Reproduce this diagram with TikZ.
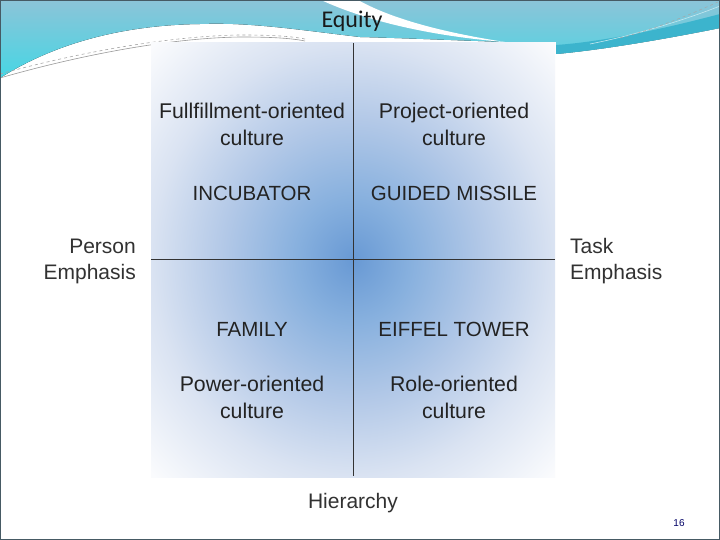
\documentclass[tikz,border=0pt]{standalone}
\usepackage{fontspec}
\setmainfont{Liberation Sans}
\newfontfamily\eqfont{Carlito}
\definecolor{qc0}{RGB}{104,153,212}
\definecolor{qc1}{RGB}{135,176,222}
\definecolor{qc2}{RGB}{178,200,231}
\definecolor{qc3}{RGB}{218,227,242}
\definecolor{qc4}{RGB}{250,251,253}
\definecolor{hdtop}{RGB}{140,196,216}
\definecolor{hdbot}{RGB}{70,214,228}
\definecolor{hdteal}{RGB}{60,180,205}
\definecolor{txtq}{RGB}{35,35,35}
\definecolor{txts}{RGB}{50,50,50}
\definecolor{framec}{RGB}{70,90,100}
\pgfdeclareradialshading{quadshade}{\pgfpoint{0bp}{0bp}}{color(0bp)=(qc0); color(7bp)=(qc1); color(16bp)=(qc2); color(25bp)=(qc3); color(35bp)=(qc4); color(50bp)=(qc4)}
\tikzset{
  qtext/.style={font=\fontsize{21.3}{27}\selectfont, text=txtq, inner sep=0pt, anchor=base},
  qcaps/.style={font=\fontsize{20.5}{27}\selectfont, text=txtq, inner sep=0pt, anchor=base},
  stext/.style={font=\fontsize{21}{27}\selectfont, text=txts, inner sep=0pt},
  axisline/.style={draw=black!80, line width=1pt}
}
\begin{document}
\begin{tikzpicture}[x=1pt,y=-1pt]
\useasboundingbox (0,0) rectangle (720,540);
\fill[white] (0,0) rectangle (720,540);
% header band
\fill[top color=hdtop, bottom color=hdbot] (0,0) -- (720,0) -- (720,28)
  .. controls (660,40) and (600,50) .. (556,54) -- (556,42) -- (505,42)
  .. controls (450,40) and (400,38) .. (360,37)
  .. controls (300,30) and (250,22) .. (200,24)
  .. controls (130,25) and (60,40) .. (0,78) -- cycle;
% white swoosh stripe
\fill[white] (321,0) .. controls (360,18) and (420,35) .. (505,42)
  .. controls (440,32) and (390,18) .. (358,0) -- cycle;
% teal stripes right
\fill[hdteal] (556,54) .. controls (600,50) and (660,40) .. (720,28) -- (720,14)
  .. controls (660,30) and (600,42) .. (556,45) -- cycle;
\draw[white!70!hdteal, line width=0.6pt] (590,44) .. controls (640,34) and (690,18) .. (720,6);
\draw[gray!70, line width=0.5pt, dashed] (620,38) .. controls (660,28) and (700,10) .. (718,2);
% left gray lines
\draw[gray!80, line width=0.6pt] (0,78) .. controls (80,55) and (170,38) .. (240,37) .. controls (270,37) and (290,38) .. (305,41);
\draw[gray!70, line width=0.6pt, dashed] (0,74) .. controls (80,52) and (170,36) .. (240,35) .. controls (270,35) and (290,36) .. (305,39);
% quadrant square
\coordinate (tl) at (151,43);
\coordinate (br) at (555,477);
\coordinate (ctr) at (353,259);
\coordinate (vt) at (353,43);
\coordinate (vb) at (353,476);
\coordinate (hl) at (151,259);
\coordinate (hr) at (555,259);
\shade[shading=quadshade] (tl) rectangle (br);
\path[axisline] (vt) -- (vb);
\path[axisline] (hl) -- (hr);
% quadrant texts
\node[qtext] (ff1) at (252,119) {Fullfillment-oriented};
\node[qtext] (ff2) at (252,146) {culture};
\node[qcaps] (inc) at (252,200.5) {INCUBATOR};
\node[qtext] (pr1) at (454,119) {Project-oriented};
\node[qtext] (pr2) at (454,146) {culture};
\node[qcaps] (gm) at (454,200.5) {GUIDED MISSILE};
\node[qcaps] (fam) at (252,336.5) {FAMILY};
\node[qtext] (po1) at (252,391) {Power-oriented};
\node[qtext] (po2) at (252,418) {culture};
\node[qcaps] (eif) at (454,336.5) {EIFFEL TOWER};
\node[qtext] (ro1) at (454,391) {Role-oriented};
\node[qtext] (ro2) at (454,418) {culture};
% axis labels
\node[stext, anchor=base east] (pe1) at (136,253) {Person};
\node[stext, anchor=base east] (pe2) at (136,279) {Emphasis};
\node[stext, anchor=base west] (te1) at (570,253) {Task};
\node[stext, anchor=base west] (te2) at (570,279) {Emphasis};
\node[stext, anchor=base] (hier) at (353,508) {Hierarchy};
\node[font=\eqfont\fontsize{24}{28}\selectfont, text=black!90, inner sep=0pt, anchor=base] (eq) at (352,28) {Equity};
\node[font=\fontsize{10}{11}\selectfont, text=black!60!blue, inner sep=0pt, anchor=base] (pg) at (679,526) {16};
% frame
\draw[framec, line width=1.2pt] (0.6,0.6) rectangle (719.4,539.4);
\end{tikzpicture}
\end{document}
